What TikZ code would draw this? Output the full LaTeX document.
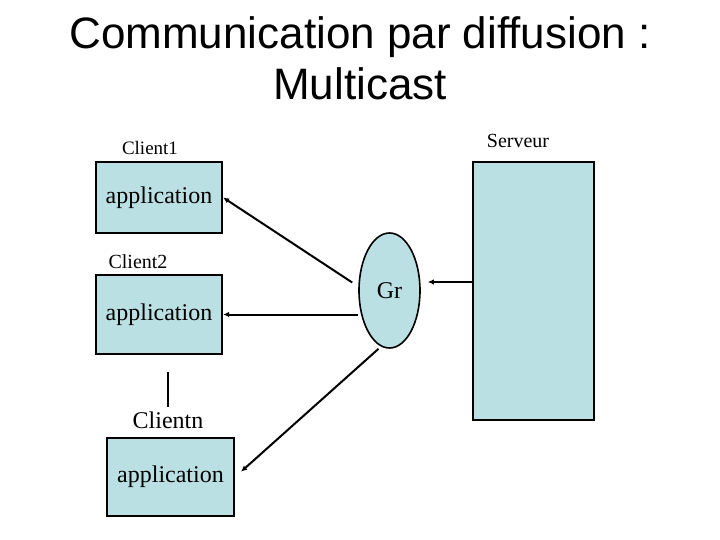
\documentclass[tikz,border=0pt]{standalone}
\usepackage{fontspec}
\setmainfont{Liberation Serif}
\newfontfamily\titlefont{Liberation Sans}
\usepackage{xcolor}
\usetikzlibrary{arrows.meta,shapes.geometric}
\definecolor{appblue}{RGB}{187,224,227}

\begin{document}
\begin{tikzpicture}[x=1pt,y=-1pt,
  appbox/.style={draw=black,line width=2.2pt,fill=appblue,inner sep=0pt,font=\fontsize{24}{28}\selectfont},
  lab/.style={inner sep=0pt,anchor=base,font=\fontsize{20}{24}\selectfont},
  grp/.style={ellipse,draw=black,line width=1.6pt,fill=appblue,inner sep=0pt,minimum width=61pt,minimum height=115pt,font=\fontsize{24}{28}\selectfont},
  arrow/.style={-{Latex[length=6pt,width=5.5pt]},line width=2pt,draw=black}
]
\useasboundingbox (0,0) rectangle (720,540);
\node[inner sep=0pt,anchor=base,align=center,font=\titlefont\fontsize{44}{51}\selectfont] (title) at (360,100) {Communication par diffusion :\\Multicast};

\node[lab,font=\fontsize{19}{23}\selectfont] (c1lab) at (150,155) {Client1};
\node[appbox,minimum width=126pt,minimum height=71pt] (c1) at (159,197.5) {application};
\node[lab] (c2lab) at (138,268) {Client2};
\node[appbox,minimum width=126pt,minimum height=79pt] (c2) at (159,314.5) {application};
\coordinate (dots1) at (168,372);
\coordinate (dots2) at (168,407);
\node[lab,font=\fontsize{24}{28}\selectfont] (cnlab) at (168,428) {Clientn};
\node[appbox,minimum width=127pt,minimum height=78pt] (cn) at (170.5,477) {application};

\node[grp] (gr) at (389.5,290.5) {Gr};
\node[lab] (srvlab) at (518,148) {Serveur};
\node[draw=black,line width=2.2pt,fill=appblue,minimum width=121pt,minimum height=258pt] (srv) at (533.5,291) {};

\draw[line width=2pt] (dots1) -- (dots2);
\draw[arrow,shorten >=7pt] (srv.west |- 0,282) -- (gr.east |- 0,282);
\draw[arrow] ([shift={(-6,-8)}]gr.west) -- (c1.east);
\draw[arrow] (gr.west |- c2.east) -- (c2.east);
\draw[arrow,shorten >=8pt] ([xshift=-11pt]gr.south) -- (cn.east);
\end{tikzpicture}
\end{document}
